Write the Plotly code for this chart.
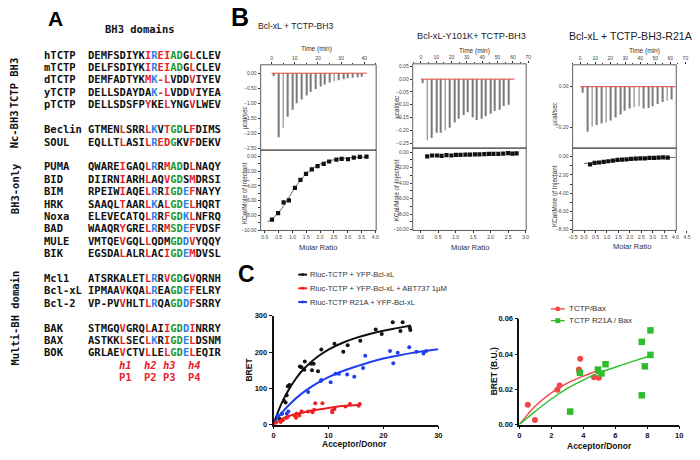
import plotly.graph_objects as go

W, H = 700, 460
SANS = "Liberation Sans, Arial, sans-serif"
MONO = "DejaVu Sans Mono, monospace"
RED, BLUE, GREEN = "#e8242c", "#2f7fe6", "#1f9a2e"

# ---------------- Panel A : BH3 alignment ----------------
bh3_names = ["hTCTP", "mTCTP", "dTCTP", "yTCTP", "pTCTP", None,
             "Beclin", "SOUL", None,
             "PUMA", "BID", "BIM", "HRK", "Noxa", "BAD", "MULE", "BIK", None,
             "Mcl1", "Bcl-xL", "Bcl-2", None,
             "BAK", "BAX", "BOK"]
bh3_seqs = ["DEMFSDIYKIREIADGLCLEV", "DELFSDIYKIREIADGLCLEV", "DEMFADTYKMK-LVDDVIYEV",
            "DELLSDAYDAK-LVDDVIYEA", "DELLSDSFPYKELYNGVLWEV", None,
            "GTMENLSRRLKVTGDLFDIMS", "EQLLTLASILREDGKVFDEKV", None,
            "QWAREIGAQLRRMADDLNAQY", "DIIRNIARHLAQVGDSMDRSI", "RPEIWIAQELRRIGDEFNAYY",
            "SAAQLTAARLKALGDELHQRT", "ELEVECATQLRRFGDKLNFRQ", "WAAQRYGRELRRMSDEFVDSF",
            "VMTQEVGQLLQDMGDDVYQQY", "EGSDALALRLACIGDEMDVSL", None,
            "ATSRKALETLRRVGDGVQRNH", "IPMAAVKQALREAGDEFELRY", "VP-PVVHLTLRQAGDDFSRRY", None,
            "STMGQVGRQLAIIGDDINRRY", "ASTKKLSECLKRIGDELDSNM", "GRLAEVCTVLLELGDELEQIR"]
# r = hydrophobic pocket residue, b = charged, g = conserved G/D, . = other
bh3_marks = [".........rbrrgg.r....", ".........rbrrgg.r....", ".........rbrr...r....",
             "..........brr...r....", ".........r..r...r....", None,
             ".....r...rb.rgg.r....", ".....r...rbrrg..r....", None,
             ".....r...rb.rgg.r....", ".....r...r..rgg.r....", ".....r...rb.rggbr....",
             ".....r...rb.rggbr....", ".........rb.rggbr....", ".....r...rb.rggbr....",
             ".....r...r...ggbr....", ".....r...r..rggbr....", None,
             ".........rb.rgg.r....", ".....r...rb..ggbr....", ".....r...rb..ggbr....", None,
             ".....r...r..rggbr....", ".....r...rb.rggbr....", ".....r...r..rggbr...."]
pocket_cols = [5, 9, 12, 16]
helix_labels = ["h1", "h2", "h3", "h4"]
pocket_labels = ["P1", "P2", "P3", "P4"]
group_labels = ["TCTP BH3", "Nc-BH3", "BH3-only", "Multi-BH domain"]

# ---------------- Panel B : ITC ----------------
itc_titles = ["Bcl-xL + TCTP-BH3", "Bcl-xL-Y101K+ TCTP-BH3", "Bcl-xL + TCTP-BH3-R21A"]
raw1_t = [1, 3, 5, 7, 9, 11, 13, 15, 17, 19, 21, 23, 25, 27, 29, 31, 33, 35, 37, 39]
raw1_q = [-0.1, -2.12, -1.81, -1.44, -1.21, -1.0, -0.87, -0.74, -0.62, -0.52, -0.44,
          -0.37, -0.31, -0.27, -0.23, -0.2, -0.17, -0.15, -0.13, -0.12]
raw2_t = [1.3, 4.1, 7.1, 10.1, 13.1, 15.9, 18.8, 21.8, 24.8, 27.8, 30.8, 33.6, 36.6, 39.6,
          42.4, 45.4, 48.4, 51.2, 54.2, 57.2]
raw2_q = [-0.015, -0.24, -0.23, -0.21, -0.21, -0.2, -0.19, -0.17, -0.155, -0.14, -0.13,
          -0.15, -0.16, -0.155, -0.145, -0.135, -0.125, -0.12, -0.105, -0.1]
raw3_t = [1.5, 4.8, 7.9, 11.0, 14.2, 17.3, 20.4, 23.4, 26.7, 29.8, 32.8, 35.9, 39.2, 42.2,
          45.3, 48.4, 51.4, 54.7, 57.8, 60.6]
raw3_q = [-0.03, -0.22, -0.195, -0.187, -0.18, -0.175, -0.165, -0.15, -0.136, -0.118, -0.107,
          -0.1, -0.095, -0.107, -0.104, -0.096, -0.085, -0.075, -0.069, -0.062]
base_end = [41, 61, 63.5]

int1_mr = [0.26, 0.48, 0.68, 0.87, 1.09, 1.29, 1.49, 1.70, 1.91, 2.13, 2.33, 2.59, 2.78,
           3.01, 3.22, 3.44, 3.68]
int1_kc = [-8.58, -7.7, -6.24, -5.97, -4.29, -3.19, -2.39, -1.77, -1.33, -1.02, -0.71,
           -0.44, -0.35, -0.4, -0.18, -0.09, -0.04]
fit1_mr = [0.1, 0.3, 0.5, 0.7, 0.9, 1.1, 1.3, 1.5, 1.7, 1.9, 2.1, 2.4, 2.7, 3.0, 3.3, 3.7]
fit1_kc = [-8.9, -8.35, -7.6, -6.6, -5.4, -4.2, -3.2, -2.4, -1.75, -1.25, -0.9, -0.55,
           -0.35, -0.22, -0.15, -0.1]
int2_mr = [0.19, 0.33, 0.47, 0.60, 0.74, 0.88, 1.01, 1.14, 1.28, 1.41, 1.55, 1.68, 1.82,
           1.95, 2.08, 2.22, 2.36, 2.50, 2.62, 2.74]
int2_kc = [-0.55, -0.45, -0.45, -0.5, -0.4, -0.45, -0.38, -0.38, -0.35, -0.35, -0.3, -0.3,
           -0.28, -0.25, -0.25, -0.25, -0.2, -0.15, -0.2, -0.18]
int3_mr = [0.26, 0.46, 0.66, 0.86, 1.06, 1.26, 1.46, 1.66, 1.86, 2.06, 2.26, 2.46, 2.66,
           2.86, 3.06, 3.26, 3.46, 3.66]
int3_kc = [-0.86, -0.68, -0.64, -0.57, -0.5, -0.43, -0.36, -0.32, -0.29, -0.25, -0.21,
           -0.18, -0.18, -0.14, -0.14, -0.11, -0.07, -0.11]
fit3_mr = [0.0, 0.5, 1.0, 1.5, 2.0, 2.5, 3.0, 3.5, 4.0]
fit3_kc = [-0.75, -0.62, -0.5, -0.4, -0.3, -0.22, -0.16, -0.11, -0.08]

# ---------------- Panel C : BRET ----------------
bret_names = ["Rluc-TCTP + YFP-Bcl-xL", "Rluc-TCTP + YFP-Bcl-xL + ABT737 1\u00b5M",
              "Rluc-TCTP R21A + YFP-Bcl-xL"]
bk_x = [1.1, 1.5, 1.9, 2.2, 2.4, 2.6, 2.9, 4.8, 5.1, 5.6, 5.7, 6.8, 7.0, 7.3, 8.1, 8.7,
        11.1, 12.7, 13.5, 15.8, 18.6, 19.7, 21.7, 23.1, 23.5, 24.8, 24.9]
bk_y = [16, 30, 66, 61, 81, 106, 109, 160, 158, 151, 174, 168, 150, 168, 147, 207,
        223, 201, 219, 231, 262, 250, 282, 258, 282, 268, 261]
bk_fx = [0, 1, 2, 3, 4, 5, 6, 8, 10, 12.5, 15, 17.5, 20, 22.5, 25]
bk_fy = [0, 42, 75, 102, 125, 145, 161, 187, 207, 225, 239, 250, 259, 266, 273]
rd_x = [0.4, 1.3, 1.7, 2.3, 2.6, 3.8, 4.1, 4.2, 4.7, 5.1, 6.3, 7.1, 7.4, 7.6, 8.9, 10.7,
        10.7, 11.1, 13.1, 13.9, 15.5, 15.7]
rd_y = [5, 7, 12, 18, 21, 25, 19, 30, 25, 36, 36, 34, 41, 59, 59, 39, 34, 43, 50, 57, 52, 57]
rd_fx = [0, 1, 2, 3.5, 5, 7.5, 10, 12.5, 15.7]
rd_fy = [0, 10, 19, 27, 32, 40, 46, 51, 55]
bl_x = [0.4, 0.8, 1.5, 2.4, 2.7, 6.3, 8.6, 8.7, 10.4, 11.3, 11.9, 13.4, 14.7, 16.3, 16.7,
        21.2, 21.8, 22.6, 24.7, 26.0, 27.3, 27.8]
bl_y = [7, 25, 30, 30, 36, 90, 120, 123, 117, 140, 140, 138, 132, 156, 190, 203, 169, 198,
        213, 201, 196, 203]
bl_fx = [0, 1, 2, 3, 5, 7.5, 10, 12.5, 15, 17.5, 20, 22.5, 25, 27.5, 30]
bl_fy = [0, 23, 41, 57, 84, 110, 131, 147, 160, 172, 182, 190, 197, 203, 208]

bax_names = ["TCTP/Bax", "TCTP R21A / Bax"]
bax_x = [0.53, 0.98, 2.38, 2.52, 3.73, 3.75, 3.81, 4.67, 4.92, 4.98]
bax_y = [0.0113, 0.0026, 0.0198, 0.0222, 0.0312, 0.0303, 0.0373, 0.0268, 0.0308, 0.0266]
bax_fx = [0, 0.5, 1, 2, 3, 4, 5]
bax_fy = [0, 0.0055, 0.0105, 0.018, 0.0235, 0.0275, 0.0308]
r21_x = [3.18, 3.79, 4.92, 5.14, 5.39, 7.66, 7.66, 7.85, 8.2, 8.2]
r21_y = [0.0074, 0.0294, 0.0312, 0.029, 0.0342, 0.0469, 0.0166, 0.033, 0.0534, 0.0395]
r21_fx = [0, 1, 2, 3, 4, 5, 6, 7, 8.2]
r21_fy = [0, 0.0075, 0.0145, 0.0205, 0.0252, 0.0294, 0.0325, 0.0355, 0.039]

####################################################

fig = go.Figure()
ann, shapes, layout = [], [], {}


def ak(c, n):
    return f"{c}axis" + ("" if n == 1 else str(n))


def ar(c, n):
    return c + ("" if n == 1 else str(n))


def xd(a, b):
    return [a / W, b / W]


def yd(top, bot):
    return [1 - bot / H, 1 - top / H]


def text(x, y, s, size, color="#222", family=SANS, anchor="center", weight="normal", angle=0):
    ann.append(dict(x=x / W, y=1 - y / H, xref="paper", yref="paper", text=s, showarrow=False,
                    xanchor=anchor, yanchor="middle", textangle=angle, borderpad=0,
                    font=dict(size=size, color=color, family=family, weight=weight)))


def rect(x0, x1, y0, y1, color="#333", width=0.8):
    shapes.append(dict(type="rect", xref="paper", yref="paper", x0=x0 / W, x1=x1 / W,
                       y0=1 - y1 / H, y1=1 - y0 / H, line=dict(color=color, width=width)))


# ---- panel A ----
cmap = {"r": RED, "b": BLUE, "g": GREEN}


def colour_seq(seq, mask):
    out = ""
    for ch, m in zip(seq, mask):
        out += f"<span style='color:{cmap[m]}'>{ch}</span>" if m in cmap else ch
    return out


ROW0, STEP, CHW, SEQX = 51.7, 12.65, 6.33, 83
text(51, 15, "A", 21, "#000", SANS, weight="bold")
text(137, 26, "BH3 domains", 10.5, "#111", MONO, weight="bold")
for k, (nm, sq, mk) in enumerate(zip(bh3_names, bh3_seqs, bh3_marks)):
    if nm is None:
        continue
    y = ROW0 + k * STEP
    text(39, y, nm, 10.5, "#111", MONO, "left", "bold")
    text(SEQX, y, colour_seq(sq, mk), 10.5, "#111", MONO, "left", "bold")
for c, hl, pl in zip(pocket_cols, helix_labels, pocket_labels):
    text(SEQX + c * CHW, ROW0 + 25 * STEP, f"<i>{hl}</i>", 10.5, RED, MONO, "left", "bold")
    text(SEQX + c * CHW, ROW0 + 26 * STEP, pl, 10.5, RED, MONO, "left", "bold")
for lbl, yc in zip(group_labels, [80, 128, 188, 320]):
    text(10, yc, lbl, 10.5, "#111", MONO, weight="bold", angle=-90)

# ---- panel B ----
text(238, 13, "B", 25, "#000", SANS, weight="bold")
itc = [
    dict(raw=(raw1_t, raw1_q), pts=(int1_mr, int1_kc), fit=(fit1_mr, fit1_kc), barw=0.4,
         left=259, right=376, domr=376, top=62, mid=149, bot=231, tpos=(294, 22), tsz=8.6,
         t_rng=[-4.7, 45.1], t_dt=10, r_rng=[-2.55, 0.28], r_vals=[0, -0.5, -1, -1.5, -2, -2.5],
         m_rng=[-0.15, 4.03], k_rng=[-10.05, 0.84], k_vals=[0, -2, -4, -6, -8, -10],
         tl=(316, 46), ml=(317, 248), yl=243, uy=116, ky=193),
    dict(raw=(raw2_t, raw2_q), pts=(int2_mr, int2_kc), fit=None, barw=0.55,
         left=413, right=528, domr=531, top=61, mid=147, bot=231, tpos=(473, 33), tsz=9.2,
         t_rng=[-5.3, 70.6], t_dt=10, r_rng=[-0.27, 0.06],
         r_vals=[0.05, 0, -0.05, -0.1, -0.15, -0.2, -0.25],
         m_rng=[-0.225, 3.1], k_rng=[-10.1, 0.5], k_vals=[0, -2, -4, -6, -8, -10],
         tl=(476, 48), ml=(471, 248), yl=397, uy=105, ky=190),
    dict(raw=(raw3_t, raw3_q), pts=(int3_mr, int3_kc), fit=(fit3_mr, fit3_kc), barw=0.55,
         left=575, right=680, domr=692, top=62, mid=147, bot=231, tpos=(634, 33), tsz=10.6,
         t_rng=[-5.05, 71.8], t_dt=10, r_rng=[-0.30, 0.107], r_vals=[0, -0.2],
         m_rng=[-0.5, 4.55], k_rng=[-8.1, 0.94], k_vals=[0, -2, -4, -6, -8],
         tl=(648, 48), ml=(635, 247), yl=557, uy=112, ky=196),
]
tickf = dict(size=5, color="#444", family=SANS)
for i, p in enumerate(itc):
    nt, nb = 2 * i + 1, 2 * i + 2
    common = dict(showgrid=False, zeroline=False, showline=False, ticks="outside", ticklen=2,
                  tickwidth=0.6, tickcolor="#333", tickfont=tickf)
    layout[ak("x", nt)] = dict(common, domain=xd(p["left"], p["domr"]), range=p["t_rng"],
                               anchor=ar("y", nt), side="top", dtick=p["t_dt"], tick0=0,
                               minor=dict(dtick=5, ticks="outside", ticklen=1.2, tickcolor="#333"))
    layout[ak("y", nt)] = dict(common, domain=yd(p["top"], p["mid"]), range=p["r_rng"],
                               anchor=ar("x", nt), tickvals=p["r_vals"], tickformat=".2f")
    layout[ak("x", nb)] = dict(common, domain=xd(p["left"], p["domr"]), range=p["m_rng"],
                               anchor=ar("y", nb), dtick=0.5, tick0=0, tickformat=".1f")
    layout[ak("y", nb)] = dict(common, domain=yd(p["mid"], p["bot"]), range=p["k_rng"],
                               anchor=ar("x", nb), tickvals=p["k_vals"], tickformat=".2f",
                               minor=dict(dtick=1, ticks="outside", ticklen=1.2, tickcolor="#333"))
    t, q = p["raw"]
    fig.add_trace(go.Bar(x=t, y=q, width=p["barw"], marker=dict(color="#7a7a7a", line_width=0),
                         xaxis=ar("x", nt), yaxis=ar("y", nt)))
    fig.add_trace(go.Scatter(x=[0, base_end[i]], y=[0, 0], mode="lines",
                             line=dict(color="#e0443a", width=1),
                             xaxis=ar("x", nt), yaxis=ar("y", nt)))
    if p["fit"]:
        fig.add_trace(go.Scatter(x=p["fit"][0], y=p["fit"][1], mode="lines", line_shape="spline",
                                 line=dict(color="#444", width=0.8),
                                 xaxis=ar("x", nb), yaxis=ar("y", nb)))
    fig.add_trace(go.Scatter(x=p["pts"][0], y=p["pts"][1], mode="markers",
                             marker=dict(symbol="square", size=4.2, color="#111"),
                             xaxis=ar("x", nb), yaxis=ar("y", nb)))
    rect(p["left"], p["right"], p["top"], p["mid"])
    rect(p["left"], p["right"], p["mid"], p["bot"])
    text(p["tpos"][0], p["tpos"][1], itc_titles[i], p["tsz"], "#222")
    text(p["tl"][0], p["tl"][1], "Time (min)", 6.5, "#333")
    text(p["ml"][0], p["ml"][1], "Molar Ratio", 7.5, "#333")
    text(p["yl"], p["uy"], "\u00b5cal/sec", 6.3, "#333", angle=-90)
    text(p["yl"], p["ky"], "KCal/Mole of Injectant", 6.3, "#333", angle=-90)

# ---- panel C ----
text(245, 275, "C", 23, "#000", SANS, weight="bold")
bret_ax = dict(showgrid=False, zeroline=False, showline=True, linecolor="#111", linewidth=1.6,
               ticks="outside", ticklen=3, tickwidth=1.4, tickcolor="#111",
               tickfont=dict(size=7.5, color="#111", family=SANS, weight="bold"))
layout["xaxis7"] = dict(bret_ax, domain=xd(272, 439), range=[0, 30], tickvals=[0, 10, 20, 30],
                        anchor="y7")
layout["yaxis7"] = dict(bret_ax, domain=yd(318, 429), range=[0, 300],
                        tickvals=[0, 100, 200, 300], anchor="x7")
layout["xaxis8"] = dict(bret_ax, domain=xd(521, 683), range=[0, 10], dtick=2, anchor="y8")
layout["yaxis8"] = dict(bret_ax, domain=yd(321, 429), range=[0, 0.06], dtick=0.02,
                        tickformat=".2f", anchor="x8")

for (px_, py_, fx, fy, col) in [(bk_x, bk_y, bk_fx, bk_fy, "#111"),
                                (bl_x, bl_y, bl_fx, bl_fy, "#1f3ff0"),
                                (rd_x, rd_y, rd_fx, rd_fy, "#ee2020")]:
    fig.add_trace(go.Scatter(x=fx, y=fy, mode="lines", line_shape="spline",
                             line=dict(color=col, width=2), xaxis="x7", yaxis="y7",
                             cliponaxis=False))
    fig.add_trace(go.Scatter(x=px_, y=py_, mode="markers", marker=dict(size=4, color=col),
                             xaxis="x7", yaxis="y7", cliponaxis=False))

for (px_, py_, fx, fy, col, sym) in [(bax_x, bax_y, bax_fx, bax_fy, "#f04848", "circle"),
                                     (r21_x, r21_y, r21_fx, r21_fy, "#2ebd2e", "square")]:
    fig.add_trace(go.Scatter(x=fx, y=fy, mode="lines", line_shape="spline",
                             line=dict(color=col, width=1.4), xaxis="x8", yaxis="y8",
                             cliponaxis=False))
    fig.add_trace(go.Scatter(x=px_, y=py_, mode="markers",
                             marker=dict(size=6 if sym == "circle" else 6.5, color=col,
                                         symbol=sym),
                             xaxis="x8", yaxis="y8", cliponaxis=False))

# legends
for nm, col, yy in zip(bret_names, ["#111", "#ee2020", "#1f3ff0"], [276, 290, 304]):
    shapes.append(dict(type="line", xref="paper", yref="paper", x0=297 / W, x1=306 / W,
                       y0=1 - yy / H, y1=1 - yy / H, line=dict(color=col, width=2)))
    shapes.append(dict(type="circle", xref="paper", yref="paper", x0=300 / W, x1=303 / W,
                       y0=1 - (yy + 1.5) / H, y1=1 - (yy - 1.5) / H,
                       fillcolor=col, line=dict(color=col, width=0)))
    text(308, yy, nm, 7.6, "#333", anchor="left")
for nm, col, yy, typ in zip(bax_names, ["#f04848", "#2ebd2e"], [311, 323], ["circle", "rect"]):
    shapes.append(dict(type="line", xref="paper", yref="paper", x0=553 / W, x1=567 / W,
                       y0=1 - yy / H, y1=1 - yy / H, line=dict(color=col, width=1.4)))
    shapes.append(dict(type=typ, xref="paper", yref="paper", x0=557.5 / W, x1=562.5 / W,
                       y0=1 - (yy + 2.5) / H, y1=1 - (yy - 2.5) / H,
                       fillcolor=col, line=dict(color=col, width=0)))
    text(570, yy, nm, 8, "#333", anchor="left")

text(247, 373, "BRET", 8.5, "#111", weight="bold", angle=-90)
text(354, 449, "Acceptor/Donor", 8.5, "#111", weight="bold")
text(495, 375, "BRET (B.U.)", 8.5, "#111", weight="bold", angle=-90)
text(602, 451, "Acceptor/Donor", 8.5, "#111", weight="bold")

fig.update_layout(width=W, height=H, margin=dict(l=0, r=0, t=0, b=0), showlegend=False,
                  paper_bgcolor="white", plot_bgcolor="rgba(0,0,0,0)", font=dict(family=SANS),
                  annotations=ann, shapes=shapes, **layout)
fig.write_html("out.html", config={"displayModeBar": False},
               post_script="document.body.style.margin='0';")
